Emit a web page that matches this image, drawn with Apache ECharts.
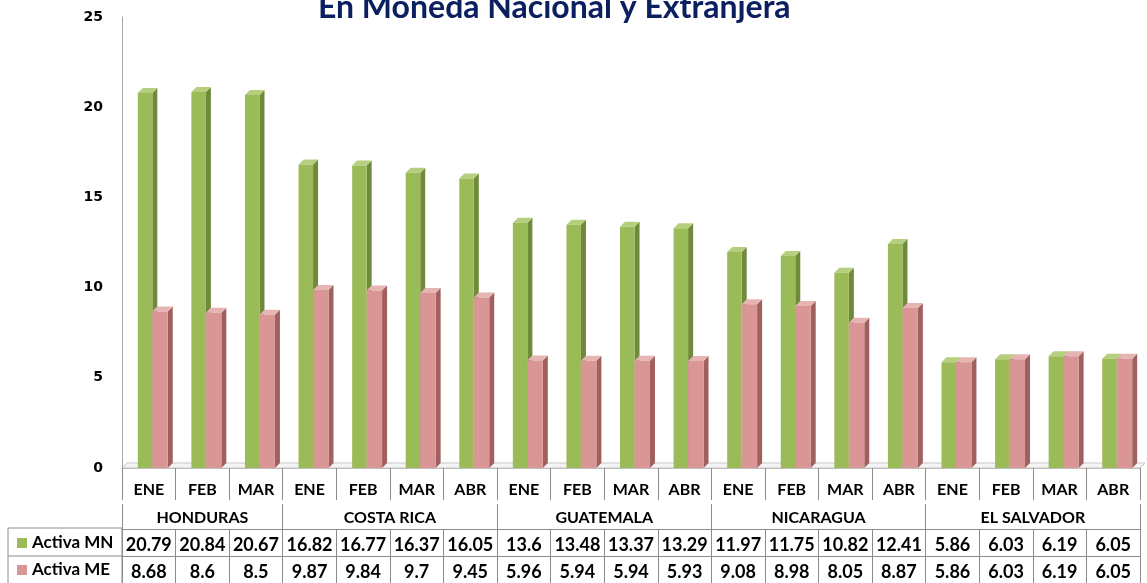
<!DOCTYPE html>
<html>
<head>
<meta charset="utf-8">
<script src="https://cdn.jsdelivr.net/npm/echarts@6/dist/echarts.min.js"></script>
<style>
  html, body { margin: 0; padding: 0; background: #fff; }
  #chart1 { width: 1147px; height: 583px; }
</style>
</head>
<body>
<div id="chart1"></div>
<script>
// data
var months = ['ENE', 'FEB', 'MAR', 'ENE', 'FEB', 'MAR', 'ABR', 'ENE', 'FEB', 'MAR', 'ABR',
              'ENE', 'FEB', 'MAR', 'ABR', 'ENE', 'FEB', 'MAR', 'ABR'];
var countries = ['HONDURAS', 'COSTA RICA', 'GUATEMALA', 'NICARAGUA', 'EL SALVADOR'];
var monthsPerCountry = [3, 4, 4, 4, 4];
var activaMN = [20.79, 20.84, 20.67, 16.82, 16.77, 16.37, 16.05, 13.6, 13.48, 13.37, 13.29,
                11.97, 11.75, 10.82, 12.41, 5.86, 6.03, 6.19, 6.05];
var activaME = [8.68, 8.6, 8.5, 9.87, 9.84, 9.7, 9.45, 5.96, 5.94, 5.94, 5.93,
                9.08, 8.98, 8.05, 8.87, 5.86, 6.03, 6.19, 6.05];
var yTicks = [0, 5, 10, 15, 20, 25];

var dom = document.getElementById('chart1');
var myChart = echarts.init(dom);

// country borders and label centres, in category units
var bounds = [0], mids = [];
monthsPerCountry.forEach(function (n) {
  var start = bounds[bounds.length - 1];
  mids.push(start + n / 2);
  bounds.push(start + n);
});

var lineCol = '#8c8c8c';
var tableFont = 'Lato';
var W = 1147, H = 583;
var gLeft = 122, gRight = 7, gTop = 17, gBottom = 115;
var depth = 5;

// 3D looking column, l / r are fractions of the category width
function column(l, r, front, side, top) {
  return function (params, api) {
    var idx = api.value(0);
    var base = api.coord([idx, 0]);
    var tip = api.coord([idx, api.value(1)]);
    var bw = api.size([1, 0])[0];
    var x0 = base[0] + bw * l, x1 = base[0] + bw * r;
    var y0 = base[1], y1 = tip[1];
    var d = depth;
    return {
      type: 'group',
      children: [
        { type: 'polygon', shape: { points: [[x1, y1], [x1 + d, y1 - d], [x1 + d, y0 - d], [x1, y0]] },
          style: { fill: side } },
        { type: 'polygon', shape: { points: [[x0, y1], [x0 + d, y1 - d], [x1 + d, y1 - d], [x1, y1]] },
          style: { fill: top } },
        { type: 'rect', shape: { x: x0, y: y1, width: x1 - x0, height: y0 - y1 },
          style: { fill: front } }
      ]
    };
  };
}

function pairs(arr) {
  return arr.map(function (v, i) { return [i, v]; });
}

function tableAxis(data, offset, len, margin) {
  return {
    type: 'category',
    position: 'bottom',
    offset: offset,
    data: data,
    axisLine: { show: true, lineStyle: { color: lineCol, width: 1 } },
    axisTick: { show: true, interval: 0, length: len, lineStyle: { color: lineCol, width: 1 } },
    axisLabel: {
      interval: 0, margin: margin, color: '#000',
      fontFamily: tableFont, fontWeight: 'bold', fontSize: 18
    },
    splitLine: { show: false }
  };
}

// floor slab under the columns
var fy = H - gBottom, fx0 = gLeft, fx1 = W - gRight;
var floor = {
  type: 'polygon',
  silent: true,
  z: -1,
  shape: { points: [[fx0, fy], [fx0 + depth, fy - depth], [fx1 + depth, fy - depth], [fx1, fy]] },
  style: { fill: '#f4f4f4', stroke: '#c8c8c8', lineWidth: 1 }
};

option = {
  backgroundColor: '#ffffff',
  animation: false,
  title: {
    text: 'En Moneda Nacional y Extranjera',
    left: 313,
    top: -13,
    textStyle: { color: '#0c2060', fontFamily: tableFont, fontWeight: 'bold', fontSize: 32 }
  },
  legend: {
    data: ['Activa MN', 'Activa ME'],
    orient: 'vertical',
    left: 17,
    top: 534,
    padding: 0,
    itemWidth: 10,
    itemHeight: 10,
    itemGap: 9,
    icon: 'rect',
    formatter: '{b|{name}}',
    textStyle: {
      color: '#000', fontFamily: tableFont, fontWeight: 'bold', fontSize: 17, lineHeight: 18,
      rich: { b: { color: '#000', fontFamily: tableFont, fontWeight: 'bold', fontSize: 17, lineHeight: 18 } }
    }
  },
  grid: { left: gLeft, right: gRight, top: gTop, bottom: gBottom, containLabel: false },
  xAxis: [
    {
      type: 'category',
      position: 'bottom',
      data: months,
      axisLine: { show: true, lineStyle: { color: '#bfbfbf', width: 1 } },
      axisTick: { show: true, interval: 0, length: 32, lineStyle: { color: lineCol } },
      axisLabel: { interval: 0, margin: 14, color: '#000', fontFamily: tableFont, fontWeight: 'bold', fontSize: 16 },
      splitLine: { show: false }
    },
    {
      type: 'value',
      position: 'bottom',
      offset: 36,
      min: 0,
      max: months.length,
      axisLine: { show: false },
      axisTick: { show: true, customValues: bounds, length: 25, lineStyle: { color: lineCol } },
      axisLabel: {
        customValues: mids, margin: 6, color: '#000',
        fontFamily: tableFont, fontWeight: 'bold', fontSize: 16,
        formatter: function (v) { return countries[mids.indexOf(v)] || ''; }
      },
      splitLine: { show: false }
    },
    tableAxis(activaMN.map(String), 61, 27, 7),
    tableAxis(activaME.map(String), 88, 27, 7)
  ],
  yAxis: {
    type: 'value',
    min: yTicks[0],
    max: yTicks[yTicks.length - 1],
    interval: 5,
    axisLine: { show: true, lineStyle: { color: '#a6a6a6' } },
    axisTick: { show: false },
    splitLine: { show: false },
    axisLabel: { margin: 19, color: '#000', fontFamily: 'DejaVu Sans', fontWeight: 'bold', fontSize: 14 }
  },
  graphic: [
    floor,
    { type: 'rect', shape: { x: 8, y: 528, width: 114, height: 60 },
      style: { fill: null, stroke: lineCol, lineWidth: 1 }, silent: true, z: 1 },
    { type: 'line', shape: { x1: 8, y1: 556, x2: 122, y2: 556 },
      style: { stroke: lineCol, lineWidth: 1 }, silent: true, z: 1 }
  ],
  series: [
    {
      name: 'Activa MN',
      type: 'custom',
      xAxisIndex: 0,
      itemStyle: { color: '#9bbb59' },
      renderItem: column(-0.205, 0.066, '#9bbb59', '#6f8a3a', '#b5cf7f'),
      encode: { x: 0, y: 1 },
      data: pairs(activaMN)
    },
    {
      name: 'Activa ME',
      type: 'custom',
      xAxisIndex: 0,
      itemStyle: { color: '#d99694' },
      renderItem: column(0.066, 0.354, '#d99694', '#a0605e', '#e6b5b3'),
      encode: { x: 0, y: 1 },
      data: pairs(activaME)
    }
  ]
};

if (option && typeof option === "object") {
  myChart.setOption(option, true);
}
</script>
</body>
</html>
